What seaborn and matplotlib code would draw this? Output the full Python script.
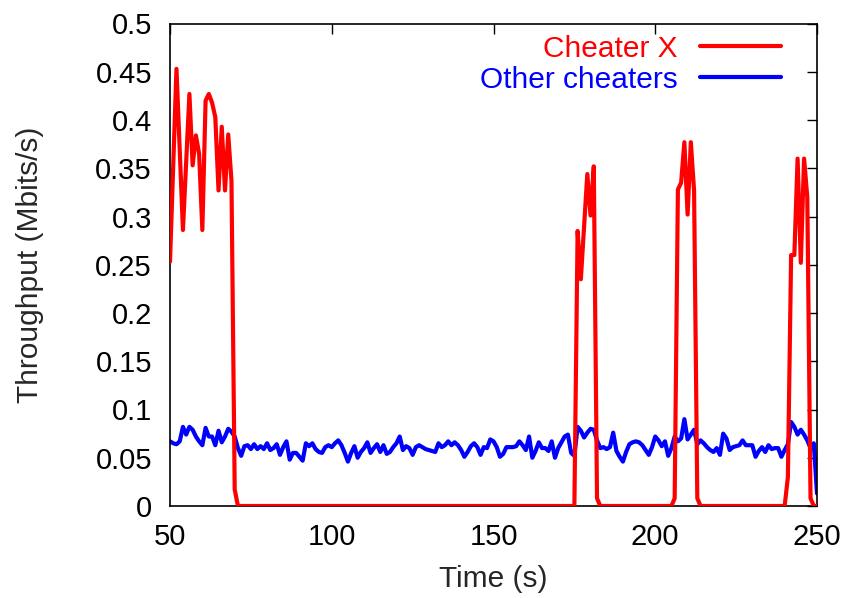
import matplotlib
matplotlib.use("Agg")
import matplotlib.pyplot as plt
import seaborn as sns
import pandas as pd

# ---------------- data ----------------
series_names = ["Cheater X", "Other cheaters"]

red_time = [50, 52, 54, 56, 57, 58, 59, 60, 61, 62, 63, 64, 65, 66, 67, 68, 69, 70, 71,
            175, 176, 177, 179, 180, 181, 182, 183,
            205, 206, 207, 208, 209, 210, 211, 212, 213, 214,
            240, 241, 242, 243, 244, 245, 246, 247, 248, 249, 250]
red_vals = [0.253, 0.453, 0.286, 0.427, 0.353, 0.384, 0.365, 0.286, 0.420, 0.427, 0.418,
            0.403, 0.327, 0.393, 0.327, 0.385, 0.337, 0.017, 0.0,
            0.0, 0.285, 0.235, 0.344, 0.301, 0.352, 0.008, 0.0,
            0.0, 0.008, 0.328, 0.335, 0.377, 0.302, 0.377, 0.327, 0.008, 0.0,
            0.0, 0.03, 0.26, 0.26, 0.36, 0.252, 0.36, 0.32, 0.008, 0.0, 0.0]

blue_time = list(range(50, 251))
blue_vals = [
    0.067, 0.065, 0.064, 0.067, 0.082, 0.074, 0.082, 0.079, 0.072, 0.067,  # 50
    0.063, 0.081, 0.072, 0.072, 0.063, 0.078, 0.066, 0.072, 0.080, 0.077,  # 60
    0.072, 0.060, 0.052, 0.062, 0.063, 0.059, 0.064, 0.059, 0.062, 0.059,  # 70
    0.065, 0.058, 0.060, 0.064, 0.053, 0.061, 0.067, 0.048, 0.055, 0.055,  # 80
    0.051, 0.047, 0.065, 0.062, 0.065, 0.059, 0.056, 0.055, 0.061, 0.063,  # 90
    0.061, 0.065, 0.068, 0.063, 0.055, 0.046, 0.055, 0.062, 0.050, 0.056,  # 100
    0.060, 0.066, 0.055, 0.060, 0.064, 0.056, 0.063, 0.054, 0.056, 0.061,  # 110
    0.065, 0.072, 0.058, 0.062, 0.060, 0.053, 0.061, 0.063, 0.061, 0.059,  # 120
    0.058, 0.057, 0.056, 0.065, 0.061, 0.063, 0.067, 0.063, 0.066, 0.063,  # 130
    0.058, 0.051, 0.056, 0.062, 0.065, 0.061, 0.053, 0.061, 0.060, 0.069,  # 140
    0.067, 0.061, 0.051, 0.054, 0.061, 0.061, 0.061, 0.062, 0.067, 0.063,  # 150
    0.058, 0.072, 0.050, 0.057, 0.066, 0.060, 0.060, 0.057, 0.067, 0.050,  # 160
    0.060, 0.066, 0.072, 0.074, 0.055, 0.052, 0.082, 0.078, 0.071, 0.076,  # 170
    0.080, 0.079, 0.068, 0.060, 0.061, 0.059, 0.061, 0.076, 0.057, 0.051,  # 180
    0.046, 0.056, 0.064, 0.066, 0.067, 0.066, 0.063, 0.058, 0.053, 0.061,  # 190
    0.072, 0.068, 0.062, 0.067, 0.052, 0.060, 0.072, 0.067, 0.070, 0.090,  # 200
    0.069, 0.074, 0.079, 0.064, 0.068, 0.065, 0.061, 0.058, 0.056, 0.060,  # 210
    0.053, 0.075, 0.070, 0.058, 0.061, 0.062, 0.063, 0.068, 0.063, 0.063,  # 220
    0.063, 0.051, 0.057, 0.061, 0.056, 0.063, 0.059, 0.060, 0.060, 0.051,  # 230
    0.058, 0.064, 0.087, 0.082, 0.074, 0.079, 0.074, 0.068, 0.060, 0.065,  # 240
    0.013,                                                                 # 250
]

x_ticks = [50, 100, 150, 200, 250]
y_ticks = [0, 0.05, 0.1, 0.15, 0.2, 0.25, 0.3, 0.35, 0.4, 0.45, 0.5]
y_tick_labels = ["0", "0.05", "0.1", "0.15", "0.2", "0.25", "0.3", "0.35", "0.4", "0.45", "0.5"]

red_df = pd.DataFrame({"Time": red_time, "Throughput": red_vals})
blue_df = pd.DataFrame({"Time": blue_time, "Throughput": blue_vals})

# ---------------- plot ----------------
sns.set_style("white")
plt.rcParams['font.family'] = ['Liberation Sans', 'DejaVu Sans']

fig = plt.figure(figsize=(8.49, 5.98), dpi=100)
ax = fig.add_axes([170 / 849, 1 - 506 / 598, 647 / 849, (506 - 23.5) / 598])

sns.lineplot(data=blue_df, x="Time", y="Throughput", color="#0000ff", lw=3.0,
             ax=ax, label=series_names[1], zorder=2)
sns.lineplot(data=red_df, x="Time", y="Throughput", color="#ff0000", lw=3.0,
             ax=ax, label=series_names[0], zorder=3)

ax.set_xlim(50, 250)
ax.set_ylim(0, 0.5)
ax.set_xticks(x_ticks)
ax.set_yticks(y_ticks)
ax.set_yticklabels(y_tick_labels)
ax.tick_params(direction="in", length=7, width=1, top=True, right=True,
               labelsize=21, colors="black")
ax.tick_params(axis="y", pad=13)
ax.tick_params(axis="x", pad=12)
for s in ax.spines.values():
    s.set_color("black")
    s.set_linewidth(1.2)

ax.set_xlabel("Time (s)", fontsize=21.5)
ax.set_ylabel("Throughput (Mbits/s)", fontsize=21.5)
ax.xaxis.set_label_coords(0.5, -0.122)
ax.yaxis.set_label_coords(-0.195, 0.5)

handles, labels = ax.get_legend_handles_labels()
order = [labels.index(series_names[0]), labels.index(series_names[1])]
leg = ax.legend([handles[i] for i in order], [labels[i] for i in order],
                loc="upper right", bbox_to_anchor=(0.944, 0.977),
                markerfirst=False, frameon=False, fontsize=21.5,
                handlelength=2.7, handletextpad=0.75, labelspacing=0.1,
                borderpad=0, borderaxespad=0)
for txt, col in zip(leg.get_texts(), ["#ff0000", "#0000ff"]):
    txt.set_color(col)

fig.savefig("out.png", dpi=100, facecolor="white")
